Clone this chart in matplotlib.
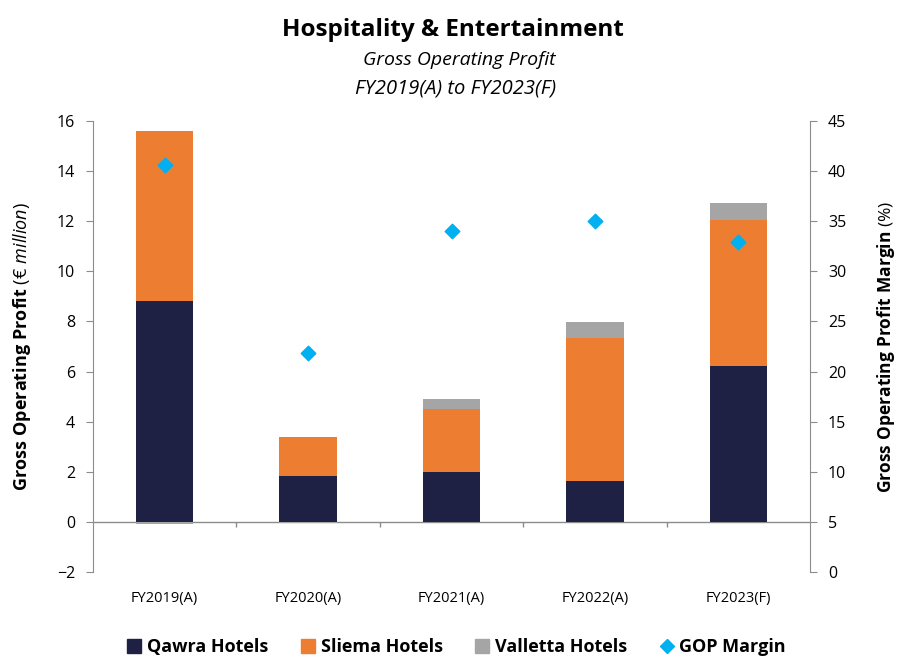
import numpy as np
import matplotlib
matplotlib.use("Agg")
import matplotlib.pyplot as plt
from matplotlib.lines import Line2D

# ── Data ──────────────────────────────────────────────────────────────────
years = ["FY2019(A)", "FY2020(A)", "FY2021(A)", "FY2022(A)", "FY2023(F)"]
qawra = [8.82, 1.84, 2.00, 1.64, 6.22]
sliema = [6.78, 1.55, 2.51, 5.70, 5.83]
valletta = [-0.10, -0.05, 0.39, 0.64, 0.68]
gop_margin = [40.6, 21.9, 34.0, 35.0, 32.9]

NAVY = "#1F2144"
ORANGE = "#ED7D31"
GREY = "#A5A5A5"
CYAN = "#00B0F0"
AXIS = "#8C8C8C"

plt.rcParams['font.family'] = ['Open Sans', 'DejaVu Sans']
plt.rcParams['mathtext.fontset'] = 'custom'
plt.rcParams['mathtext.rm'] = 'Open Sans'
plt.rcParams['mathtext.bf'] = 'Open Sans:bold'
plt.rcParams['mathtext.it'] = 'Open Sans:italic'

fig = plt.figure(figsize=(8.97, 6.57), dpi=100)
ax = fig.add_axes([0.1037, 0.1294, 0.7993, 0.6864])
ax2 = ax.twinx()

x = np.arange(len(years))
w = 0.4
q = np.array(qawra)
s = np.array(sliema)
v = np.array(valletta)

ax.bar(x, q, w, color=NAVY, zorder=2)
ax.bar(x, s, w, bottom=q, color=ORANGE, zorder=2)
# valletta: stacked on top when positive, below zero when negative
v_bottom = np.where(v >= 0, q + s, 0)
ax.bar(x, v, w, bottom=v_bottom, color=GREY, zorder=2)

ax2.scatter(x, gop_margin, marker="D", s=55, color=CYAN, zorder=3)

# ── Axes ──────────────────────────────────────────────────────────────────
ax.set_xlim(-0.5, len(years) - 0.5)
ax.set_ylim(-2, 16)
ax.set_yticks(np.arange(-2, 17, 2))
ax2.set_ylim(0, 45)
ax2.set_yticks(np.arange(0, 46, 5))

for a in (ax, ax2):
    for side in ("top", "bottom"):
        a.spines[side].set_visible(False)
    a.spines["left"].set_color(AXIS)
    a.spines["right"].set_color(AXIS)
ax.spines["right"].set_visible(False)
ax2.spines["left"].set_visible(False)

ax.tick_params(axis="y", colors=AXIS, labelcolor="black", labelsize=11.5, length=5, pad=8)
ax2.tick_params(axis="y", colors=AXIS, labelcolor="black", labelsize=11.5, length=5, pad=8)
ax.set_xticks(x)
ax.set_xticklabels(years, fontsize=10.5)
ax.tick_params(axis="x", length=0, pad=14)

# zero line with category separators
ax.axhline(0, color=AXIS, lw=1, zorder=1)
ax.vlines(np.arange(0.5, len(years) - 0.5, 1), 0, -0.2, color=AXIS, lw=1)

ax.set_ylabel(r"$\bf{Gross\ Operating\ Profit}$ $\it{(€\ million)}$", fontsize=13, labelpad=17)
ax2.set_ylabel(r"$\bf{Gross\ Operating\ Profit\ Margin}$ $\it{(\%)}$", fontsize=12.5, labelpad=21)

# ── Titles ────────────────────────────────────────────────────────────────
fig.text(0.505, 0.955, "Hospitality & Entertainment", ha="center", va="center",
         fontsize=17.5, fontweight="bold")
fig.text(0.512, 0.908, "Gross Operating Profit", ha="center", va="center",
         fontsize=14, style="italic")
fig.text(0.508, 0.865, "FY2019(A) to FY2023(F)", ha="center", va="center",
         fontsize=14.5, style="italic")

# ── Legend ────────────────────────────────────────────────────────────────
handles = [
    Line2D([], [], marker="s", ls="", color=NAVY, markersize=10),
    Line2D([], [], marker="s", ls="", color=ORANGE, markersize=10),
    Line2D([], [], marker="s", ls="", color=GREY, markersize=10),
    Line2D([], [], marker="D", ls="", color=CYAN, markersize=7),
]
labels = ["Qawra Hotels", "Sliema Hotels", "Valletta Hotels", "GOP Margin"]
fig.legend(handles, labels, loc="center", bbox_to_anchor=(0.508, 0.015), ncol=4,
           frameon=False, prop={"weight": "bold", "size": 13}, columnspacing=1.7,
           handletextpad=0.2, handlelength=1.0)

fig.savefig("out.png", dpi=100)
